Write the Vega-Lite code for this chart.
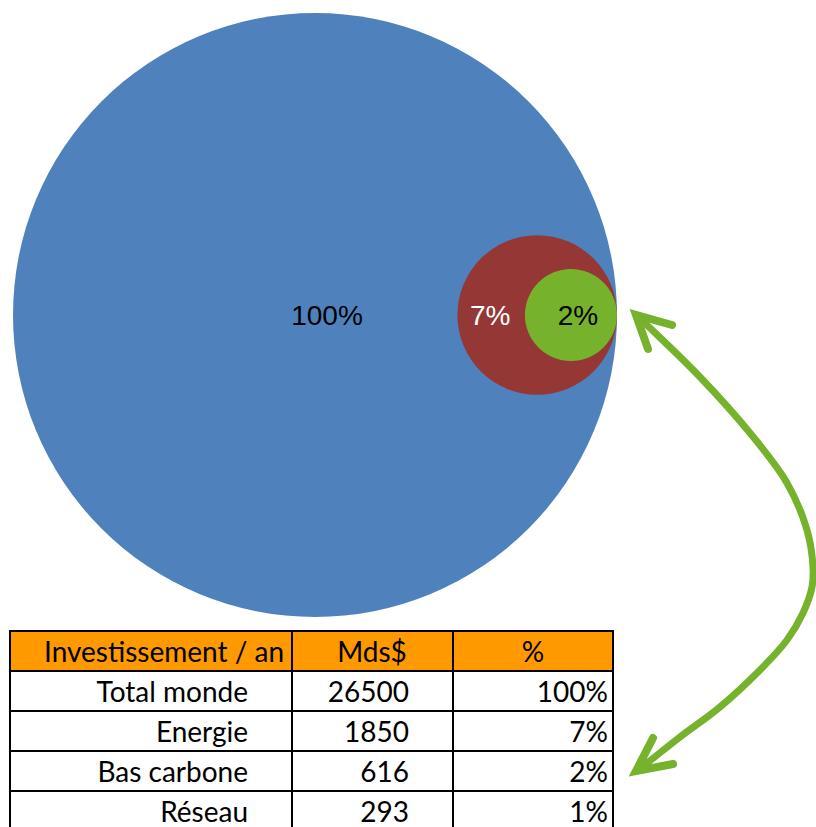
{
  "$schema": "https://vega.github.io/schema/vega-lite/v6.json",
  "width": 816,
  "height": 827,
  "autosize": "none",
  "padding": 0,
  "background": "white",
  "config": {"view": {"stroke": null}},
  "datasets": {
    "items": [
      {"name": "Total monde", "Mds": 26500, "pct": "100%", "row": 0},
      {"name": "Energie", "Mds": 1850, "pct": "7%", "row": 1},
      {"name": "Bas carbone", "Mds": 616, "pct": "2%", "row": 2},
      {"name": "Réseau", "Mds": 293, "pct": "1%", "row": 3}
    ],
    "cols": [
      {"title": "Investissement / an", "c": 0},
      {"title": "Mds$", "c": 1},
      {"title": "%", "c": 2}
    ],
    "arrow": [
      {"i": 0, "x": 636, "y": 315},
      {"i": 1, "x": 650, "y": 328},
      {"i": 2, "x": 700, "y": 377},
      {"i": 3, "x": 750, "y": 433},
      {"i": 4, "x": 787, "y": 483},
      {"i": 5, "x": 807, "y": 530},
      {"i": 6, "x": 813, "y": 567},
      {"i": 7, "x": 812, "y": 587},
      {"i": 8, "x": 803, "y": 613},
      {"i": 9, "x": 787, "y": 640},
      {"i": 10, "x": 760, "y": 670},
      {"i": 11, "x": 720, "y": 707},
      {"i": 12, "x": 680, "y": 737},
      {"i": 13, "x": 647, "y": 763},
      {"i": 14, "x": 636, "y": 771}
    ],
    "heads": [
      {"h": "top", "i": 0, "x": 672, "y": 325},
      {"h": "top", "i": 1, "x": 636, "y": 315},
      {"h": "top", "i": 2, "x": 648, "y": 349},
      {"h": "bottom", "i": 0, "x": 653, "y": 738},
      {"h": "bottom", "i": 1, "x": 636, "y": 771},
      {"h": "bottom", "i": 2, "x": 673, "y": 764}
    ]
  },
  "layer": [
    {
      "data": {"name": "items"},
      "transform": [
        {"filter": "datum.Mds > 500"},
        {"calculate": "302 * sqrt(datum.Mds / 26500)", "as": "r"},
        {"calculate": "617 - datum.r", "as": "cx"},
        {"calculate": "315", "as": "cy"}
      ],
      "mark": {"type": "point", "shape": "circle", "filled": true, "opacity": 1, "strokeWidth": 0},
      "encoding": {
        "x": {"field": "cx", "type": "quantitative", "scale": {"domain": [0, 816], "range": [0, 816], "nice": false, "zero": false}, "axis": null},
        "y": {"field": "cy", "type": "quantitative", "scale": {"domain": [0, 827], "range": [0, 827], "nice": false, "zero": false}, "axis": null},
        "size": {"field": "Mds", "type": "quantitative", "scale": {"type": "linear", "domain": [0, 26500], "range": [0, 364816], "zero": true}, "legend": null},
        "color": {"field": "name", "type": "nominal", "scale": {"domain": ["Total monde", "Energie", "Bas carbone"], "range": ["#4F81BD", "#953735", "#77B22C"]}, "legend": null}
      }
    },
    {
      "data": {"name": "items"},
      "transform": [
        {"filter": "datum.Mds > 500"},
        {"calculate": "302 * sqrt(datum.Mds / 26500)", "as": "r"},
        {"calculate": "617 - datum.r", "as": "cx"},
        {"calculate": "datum.Mds > 20000 ? datum.cx + 12 : (datum.Mds > 1000 ? datum.cx - 47 : datum.cx + 7)", "as": "lx"},
        {"calculate": "317", "as": "ly"}
      ],
      "mark": {"type": "text", "font": "Liberation Sans", "fontSize": 28, "align": "center", "baseline": "middle"},
      "encoding": {
        "x": {"field": "lx", "type": "quantitative", "axis": null},
        "y": {"field": "ly", "type": "quantitative", "axis": null},
        "text": {"field": "pct"},
        "color": {"condition": {"test": "datum.Mds > 1000 && datum.Mds < 20000", "value": "white"}, "value": "black"}
      }
    },
    {
      "data": {"name": "arrow"},
      "mark": {"type": "line", "interpolate": "catmull-rom", "color": "#76B22C", "strokeWidth": 7, "strokeCap": "round"},
      "encoding": {
        "x": {"field": "x", "type": "quantitative", "axis": null},
        "y": {"field": "y", "type": "quantitative", "axis": null},
        "order": {"field": "i"}
      }
    },
    {
      "data": {"name": "heads"},
      "mark": {"type": "line", "color": "#76B22C", "strokeWidth": 8, "strokeCap": "round", "strokeJoin": "miter", "strokeMiterLimit": 10},
      "encoding": {
        "x": {"field": "x", "type": "quantitative", "axis": null},
        "y": {"field": "y", "type": "quantitative", "axis": null},
        "detail": {"field": "h"},
        "order": {"field": "i"}
      }
    },
    {
      "data": {"name": "cols"},
      "transform": [
        {"calculate": "[10, 292, 453][datum.c]", "as": "x0"},
        {"calculate": "[292, 453, 613][datum.c]", "as": "x1"},
        {"calculate": "631", "as": "y0"},
        {"calculate": "671", "as": "y1"}
      ],
      "mark": {"type": "rect", "fill": "#FF9900", "stroke": "black", "strokeWidth": 2},
      "encoding": {
        "x": {"field": "x0", "type": "quantitative", "axis": null},
        "x2": {"field": "x1"},
        "y": {"field": "y0", "type": "quantitative", "axis": null},
        "y2": {"field": "y1"}
      }
    },
    {
      "data": {"name": "items"},
      "transform": [
        {"calculate": "10", "as": "x0"},
        {"calculate": "613", "as": "x1"},
        {"calculate": "671 + 40 * datum.row", "as": "y0"},
        {"calculate": "711 + 40 * datum.row", "as": "y1"}
      ],
      "mark": {"type": "rect", "fill": "white", "stroke": "black", "strokeWidth": 2},
      "encoding": {
        "x": {"field": "x0", "type": "quantitative", "axis": null},
        "x2": {"field": "x1"},
        "y": {"field": "y0", "type": "quantitative", "axis": null},
        "y2": {"field": "y1"}
      }
    },
    {
      "data": {"name": "cols"},
      "transform": [
        {"filter": "datum.c > 0"},
        {"calculate": "[10, 292, 453][datum.c]", "as": "x0"},
        {"calculate": "631", "as": "y0"},
        {"calculate": "840", "as": "y1"}
      ],
      "mark": {"type": "rule", "color": "black", "strokeWidth": 2},
      "encoding": {
        "x": {"field": "x0", "type": "quantitative", "axis": null},
        "y": {"field": "y0", "type": "quantitative", "axis": null},
        "y2": {"field": "y1"}
      }
    },
    {
      "data": {"name": "cols"},
      "transform": [
        {"calculate": "[164, 372, 533][datum.c]", "as": "tx"},
        {"calculate": "654", "as": "ty"}
      ],
      "mark": {"type": "text", "font": "Lato", "fontSize": 28, "align": "center", "baseline": "middle", "color": "black"},
      "encoding": {
        "x": {"field": "tx", "type": "quantitative", "axis": null},
        "y": {"field": "ty", "type": "quantitative", "axis": null},
        "text": {"field": "title"}
      }
    },
    {
      "data": {"name": "items"},
      "transform": [
        {"calculate": "248", "as": "tx"},
        {"calculate": "694 + 40 * datum.row", "as": "ty"}
      ],
      "mark": {"type": "text", "font": "Lato", "fontSize": 28, "align": "right", "baseline": "middle", "color": "black"},
      "encoding": {
        "x": {"field": "tx", "type": "quantitative", "axis": null},
        "y": {"field": "ty", "type": "quantitative", "axis": null},
        "text": {"field": "name"}
      }
    },
    {
      "data": {"name": "items"},
      "transform": [
        {"calculate": "409", "as": "tx"},
        {"calculate": "694 + 40 * datum.row", "as": "ty"}
      ],
      "mark": {"type": "text", "font": "Lato", "fontSize": 28, "align": "right", "baseline": "middle", "color": "black"},
      "encoding": {
        "x": {"field": "tx", "type": "quantitative", "axis": null},
        "y": {"field": "ty", "type": "quantitative", "axis": null},
        "text": {"field": "Mds", "type": "nominal"}
      }
    },
    {
      "data": {"name": "items"},
      "transform": [
        {"calculate": "608", "as": "tx"},
        {"calculate": "694 + 40 * datum.row", "as": "ty"}
      ],
      "mark": {"type": "text", "font": "Lato", "fontSize": 28, "align": "right", "baseline": "middle", "color": "black"},
      "encoding": {
        "x": {"field": "tx", "type": "quantitative", "axis": null},
        "y": {"field": "ty", "type": "quantitative", "axis": null},
        "text": {"field": "pct"}
      }
    }
  ]
}
